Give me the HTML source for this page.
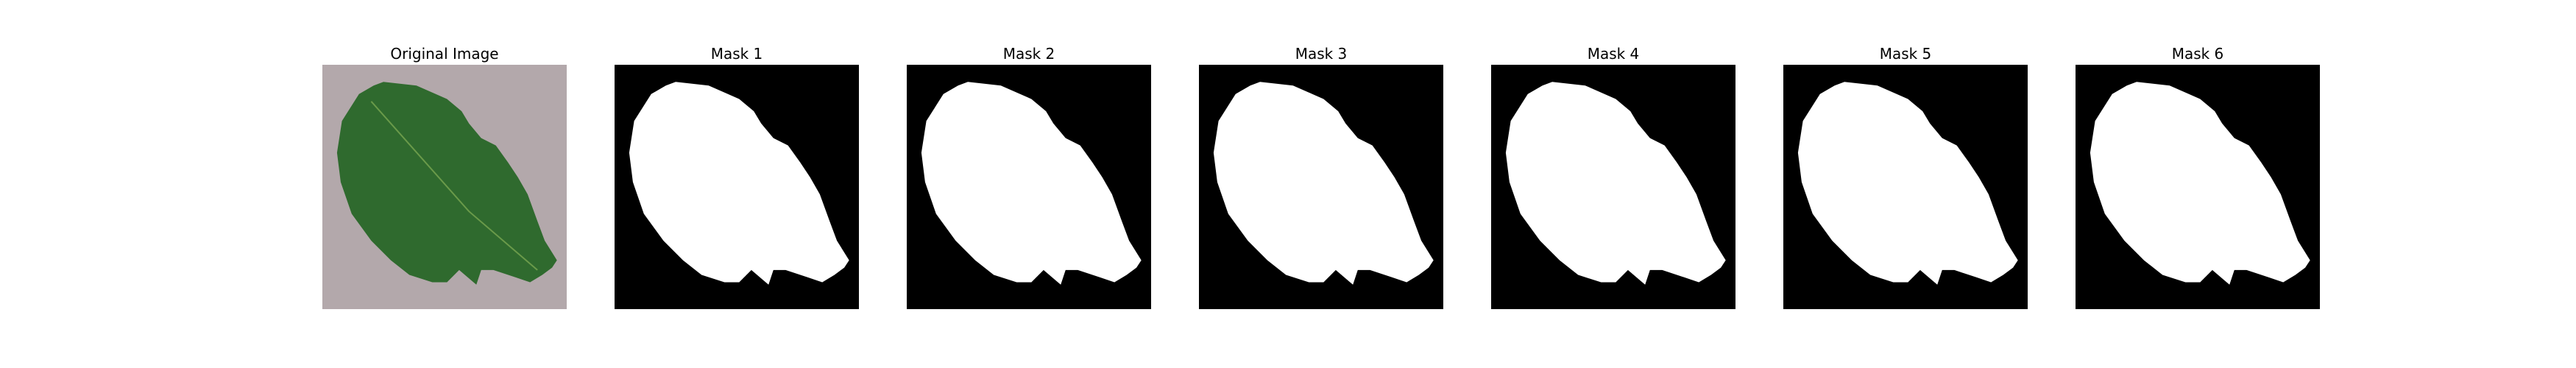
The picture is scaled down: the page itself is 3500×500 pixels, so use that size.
<!DOCTYPE html>
<html><head><meta charset="utf-8"><style>
body{margin:0;background:#fff;width:3500px;height:500px;overflow:hidden}
svg{display:block}
text{font-family:"DejaVu Sans","Liberation Sans",sans-serif;font-size:20px;fill:#000}
</style></head><body>
<svg id="fig" width="3500" height="500"></svg>
<script>
const titles=["Original Image","Mask 1","Mask 2","Mask 3","Mask 4","Mask 5","Mask 6"];
const leafU=[.25,.385,.51,.57,.6,.65,.71,.76,.80,.84,.88,.91,.96,.94,.90,.85,.79,.70,.65,.63,.56,.51,.45,.356,.28,.20,.12,.075,.06,.08,.15,.21];
const leafV=[.07,.085,.14,.19,.24,.30,.33,.40,.46,.53,.64,.72,.80,.83,.86,.89,.87,.84,.84,.90,.84,.89,.89,.86,.80,.72,.61,.48,.36,.23,.12,.085];
const NS="http://www.w3.org/2000/svg";
const fig=document.getElementById('fig');
const x0=438,step=397,topY=88,size=332;
function mk(tag,attrs){const e=document.createElementNS(NS,tag);for(const k in attrs)e.setAttribute(k,attrs[k]);return e;}
function pts(x,dx){return leafU.map((u,i)=>(x+(u+dx)*size).toFixed(1)+","+(topY+leafV[i]*size).toFixed(1)).join(" ");}
titles.forEach((t,i)=>{
  const x=x0+i*step;
  const g=mk('g',{});
  
  
  const tt=mk('text',{x:x+size/2,y:80,'text-anchor':'middle'});
  tt.textContent=t;
  
  
  g.appendChild(tt);
  const bg=mk('rect',{x:x,y:topY,width:size,height:size,fill:i===0?'#b3a8ab':'#000'});
  
  
  g.appendChild(bg);
  const leaf=mk('polygon',{points:pts(x,0),fill:i===0?'#2f6a2e':'#fff'});
  
  
  g.appendChild(leaf);
  if(i===0){
    const v=mk('path',{d:`M${x+.2*size},${topY+.15*size} L${x+.6*size},${topY+.6*size} L${x+.88*size},${topY+.84*size}`,stroke:'#6a9a4a','stroke-width':2,fill:'none'});
    
    
    g.appendChild(v);
  }
  fig.appendChild(g);
});
</script>
</body></html>
